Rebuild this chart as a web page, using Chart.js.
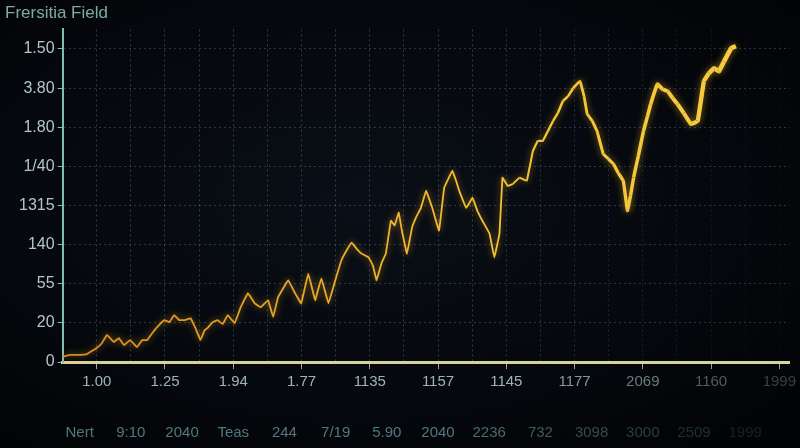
<!DOCTYPE html>
<html>
<head>
<meta charset="utf-8">
<script src="https://cdn.jsdelivr.net/npm/chart.js@4.4.1/dist/chart.umd.min.js"></script>
<style>
  html, body { margin: 0; padding: 0; }
  body {
    width: 800px; height: 448px; overflow: hidden;
    background: radial-gradient(ellipse at 45% 45%, #0a0f17 0%, #05080d 55%, #010203 100%);
  }
  #wrap { position: relative; width: 800px; height: 448px; }
</style>
</head>
<body>
<div id="wrap"><canvas id="fieldChart"></canvas></div>
<script>
// datos
const chartTitle = 'Frersitia Field';
const yTickLabels = ['0', '20', '55', '140', '1315', '1/40', '1.80', '3.80', '1.50'];
const xTickLabels = ['1.00', '1.25', '1.94', '1.77', '1135', '1157', '1145', '1177', '2069', '1160', '1999'];
const bottomLabels = ['Nert', '9:10', '2040', 'Teas', '244', '7/19', '5.90', '2040', '2236', '732', '3098', '3000', '2509', '1999'];

const timeSteps = [
  0, 0.21, 0.47, 0.71, 1.00, 1.15, 1.30, 1.50, 1.65, 1.80,
  1.98, 2.18, 2.33, 2.48, 2.63, 2.77, 2.98, 3.13, 3.27, 3.42,
  3.57, 3.75, 3.89, 4.04, 4.16, 4.25, 4.40, 4.54, 4.69, 4.84,
  5.04, 5.22, 5.43, 5.63, 5.81, 6.02, 6.17, 6.31, 6.46, 6.61,
  6.81, 6.99, 7.20, 7.40, 7.58, 7.79, 7.99, 8.17, 8.32, 8.47,
  8.61, 8.76, 8.97, 9.09, 9.20, 9.35, 9.47, 9.62, 9.73, 9.85,
  9.94, 10.09, 10.24, 10.38, 10.50, 10.65, 10.83, 11.03, 11.18, 11.30,
  11.42, 11.53, 11.62, 11.83, 12.01, 12.15, 12.30, 12.51, 12.65, 12.80,
  12.89, 13.04, 13.19, 13.39, 13.60, 13.78, 13.92, 14.07, 14.22, 14.37,
  14.51, 14.66, 14.81, 14.96, 15.16, 15.28, 15.37, 15.52, 15.66, 15.84,
  15.99, 16.14, 16.28, 16.43, 16.55, 16.64, 16.73, 16.87, 17.02, 17.14,
  17.23, 17.43, 17.58, 17.73, 17.88, 18.02, 18.20, 18.41, 18.61, 18.79,
  18.94, 19.09, 19.23, 19.38, 19.59, 19.73
];
const fieldValues = [
  0.13, 0.18, 0.18, 0.20, 0.36, 0.48, 0.69, 0.51, 0.61, 0.43,
  0.56, 0.38, 0.56, 0.56, 0.74, 0.89, 1.07, 1.02, 1.20, 1.07,
  1.07, 1.12, 0.87, 0.56, 0.81, 0.87, 1.02, 1.07, 0.97, 1.20,
  0.99, 1.40, 1.76, 1.50, 1.40, 1.58, 1.15, 1.65, 1.88, 2.09,
  1.76, 1.50, 2.26, 1.58, 2.14, 1.50, 2.09, 2.60, 2.85, 3.05,
  2.90, 2.77, 2.67, 2.47, 2.09, 2.54, 2.77, 3.61, 3.49, 3.82,
  3.36, 2.77, 3.44, 3.74, 3.94, 4.38, 3.94, 3.36, 4.45, 4.68,
  4.89, 4.63, 4.38, 3.94, 4.20, 3.87, 3.61, 3.28, 2.67, 3.28,
  4.71, 4.50, 4.55, 4.71, 4.63, 5.39, 5.65, 5.65, 5.90, 6.16,
  6.36, 6.67, 6.79, 7.00, 7.18, 6.79, 6.34, 6.16, 5.90, 5.32,
  5.19, 5.06, 4.83, 4.63, 3.87, 4.25, 4.71, 5.27, 5.90, 6.29,
  6.59, 7.10, 6.97, 6.92, 6.74, 6.59, 6.36, 6.08, 6.16, 7.18,
  7.38, 7.51, 7.43, 7.68, 8.02, 8.07
];

const points = timeSteps.map((t, i) => ({ x: t, y: fieldValues[i] }));

const xMax = 21.3;
const yMax = 8.5;

// brillo de la linea
const glowPlugin = {
  id: 'glow',
  beforeDatasetDraw(chart) {
    const c = chart.ctx;
    c.save();
    c.shadowColor = 'rgba(255, 190, 40, 0.55)';
    c.shadowBlur = 7;
  },
  afterDatasetDraw(chart) {
    chart.ctx.restore();
  }
};

function lineGradient(context) {
  const area = context.chart.chartArea;
  if (!area) return '#f0b82a';
  const g = context.chart.ctx.createLinearGradient(area.left, 0, area.right, 0);
  g.addColorStop(0, '#d98a1c');
  g.addColorStop(0.35, '#eaa827');
  g.addColorStop(0.6, '#f3c233');
  g.addColorStop(1, '#f6cf45');
  return g;
}

function fadeColor(index, startFade, total, r, g, b, a) {
  if (index < startFade) return `rgba(${r},${g},${b},${a})`;
  const k = Math.max(0.2, 1 - (index - startFade) / (total - startFade + 1));
  return `rgba(${r},${g},${b},${(a * k).toFixed(2)})`;
}

const ctx = document.getElementById('fieldChart');

new Chart(ctx, {
  type: 'line',
  data: {
    datasets: [{
      label: chartTitle,
      data: points,
      borderColor: lineGradient,
      borderWidth: 2,
      pointRadius: 0,
      tension: 0.05,
      segment: {
        borderWidth: s => 1.8 + Math.max(0, s.p0.parsed.x - 13) * 0.45
      }
    }]
  },
  options: {
    responsive: true,
    maintainAspectRatio: false,
    animation: false,
    layout: { padding: { left: 5, right: 0, top: 2, bottom: -23 } },
    plugins: {
      legend: { display: false },
      tooltip: { enabled: false },
      title: {
        display: true,
        text: chartTitle,
        align: 'start',
        color: '#7faaa4',
        font: { family: 'Liberation Sans', size: 17, weight: 'normal' },
        padding: { top: 1, bottom: 6 }
      }
    },
    scales: {
      x: {
        type: 'linear',
        min: 0,
        max: xMax,
        afterBuildTicks: axis => {
          axis.ticks = [];
          for (let v = 0; v <= 21; v++) axis.ticks.push({ value: v });
        },
        ticks: {
          autoSkip: false,
          maxRotation: 0,
          padding: 4,
          font: { family: 'Liberation Sans', size: 15 },
          color: c => fadeColor(Math.floor(c.index / 2), 6, 11, 165, 190, 192, 0.95),
          callback: v => (v % 2 === 1 ? xTickLabels[(v - 1) / 2] : '')
        },
        grid: {
          color: c => fadeColor(c.index, 12, 22, 150, 175, 195, 0.3),
          lineWidth: 1,
          tickLength: 7,
          tickColor: c => (c.index % 2 === 1 ? 'rgba(200,205,190,0.8)' : 'rgba(0,0,0,0)')
        },
        border: { color: '#d6d49a', width: 3, dash: [2, 3] }
      },
      x2: {
        type: 'linear',
        position: 'bottom',
        min: 0,
        max: xMax,
        afterBuildTicks: axis => {
          axis.ticks = bottomLabels.map((l, i) => ({ value: 0.5 + i * 1.5 }));
        },
        ticks: {
          autoSkip: false,
          maxRotation: 0,
          padding: 29,
          font: { family: 'Liberation Sans', size: 15 },
          color: c => fadeColor(c.index, 7, 14, 95, 140, 145, 0.85),
          callback: (v, i) => bottomLabels[i]
        },
        grid: { display: false, drawTicks: false },
        border: { display: false }
      },
      y: {
        min: 0,
        max: yMax,
        afterFit: axis => { axis.width += 11; },
        afterBuildTicks: axis => {
          axis.ticks = yTickLabels.map((l, i) => ({ value: i }));
        },
        ticks: {
          padding: 3,
          font: { family: 'Liberation Sans', size: 16 },
          color: '#b3c6c6',
          callback: (v, i) => yTickLabels[i]
        },
        grid: {
          color: 'rgba(150,175,195,0.28)',
          tickLength: 5,
          tickColor: '#7cc0b0'
        },
        border: { color: '#7cc0b0', width: 2, dash: [2, 3] }
      }
    }
  },
  plugins: [glowPlugin]
});
</script>
</body>
</html>
